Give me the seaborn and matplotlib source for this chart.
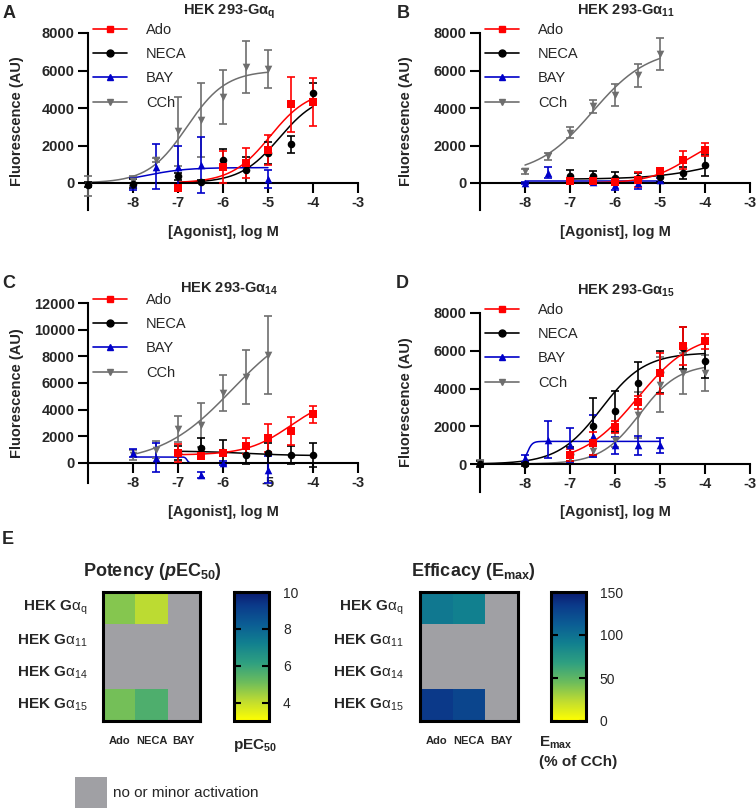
import numpy as np
import matplotlib
matplotlib.use('Agg')
import matplotlib.pyplot as plt
import seaborn as sns
import pandas as pd
from matplotlib.colors import LinearSegmentedColormap
from matplotlib.lines import Line2D
from matplotlib.patches import Rectangle

nan = np.nan

# ---------------- data ----------------
LOG_CONC = [-9, -8, -7.5, -7, -6.5, -6, -5.5, -5, -4.5, -4]
AGONISTS = ['Ado', 'NECA', 'BAY', 'CCh']
X_TICKS = [-8, -7, -6, -5, -4, -3]
X_TICK_LABELS = ['-8', '-7', '-6', '-5', '-4', '-3']

# Panel A  (HEK 293-Gaq)
A_ADO_MEAN = [nan, nan, nan, -250, nan, 850, 1060, 1770, 4190, 4340]
A_ADO_SEM = [nan, nan, nan, 60, nan, 870, 800, 800, 1470, 1280]
A_NECA_MEAN = [-80, -30, nan, 350, 80, 1240, 700, 1600, 2070, 4810]
A_NECA_SEM = [150, 250, nan, 180, 60, 560, 700, 600, 450, 500]
A_BAY_MEAN = [nan, -50, 880, 830, 970, nan, nan, 200, nan, nan]
A_BAY_SEM = [nan, 300, 1200, 1170, 1500, nan, nan, 480, nan, nan]
A_CCH_MEAN = [-150, 100, 1230, 2750, 3360, 4600, 6200, 6070, nan, nan]
A_CCH_SEM = [530, 250, 130, 1850, 1950, 1450, 1400, 1000, nan, nan]
# fit: bottom, top, logEC50, hill, first log conc, last log conc
A_ADO_FIT = [0, 5000, -4.95, 1.0, -7, -4]
A_NECA_FIT = [0, 4800, -4.75, 1.0, -7, -4]
A_BAY_FIT = [0, 820, -7.69, 1.0, -8, -5]
A_CCH_FIT = [0, 6000, -6.8, 1.0, -9, -5]

# Panel B  (HEK 293-Ga11)
B_ADO_MEAN = [nan, nan, nan, 90, 90, 80, 180, 650, 1240, 1770]
B_ADO_SEM = [nan, nan, nan, 60, 60, 60, 400, 150, 480, 350]
B_NECA_MEAN = [nan, nan, nan, 350, 350, 270, 270, 320, 530, 960]
B_NECA_SEM = [nan, nan, nan, 350, 300, 300, 250, 250, 300, 560]
B_BAY_MEAN = [nan, 0, 560, nan, 60, -100, -20, 160, nan, nan]
B_BAY_SEM = [nan, 60, 300, nan, 100, 250, 300, 100, nan, nan]
B_CCH_MEAN = [nan, 620, 1420, 2690, 4100, 4690, 5750, 6900, nan, nan]
B_CCH_SEM = [nan, 120, 180, 300, 350, 600, 620, 850, nan, nan]
B_ADO_FIT = [0, 2500, -4.4, 1.0, -7, -4]
B_NECA_FIT = [200, 2000, -3.5, 0.6, -7, -4]
B_BAY_FIT = [130, 130, -6.0, 1.0, -8, -5]
B_CCH_FIT = [400, 7200, -6.5, 0.7, -8, -5]

# Panel C  (HEK 293-Ga14)
C_ADO_MEAN = [nan, nan, nan, 750, 500, 750, 1250, 1850, 2400, 3650]
C_ADO_SEM = [nan, nan, nan, 700, 200, 250, 600, 1050, 1050, 650]
C_NECA_MEAN = [nan, nan, nan, 750, 1100, 850, 600, 750, 600, 600]
C_NECA_SEM = [nan, nan, nan, 500, 800, 850, 700, 750, 650, 900]
C_BAY_MEAN = [nan, 750, 400, nan, -900, 0, nan, -500, nan, nan]
C_BAY_SEM = [nan, 300, 1100, nan, 200, 150, nan, 1000, nan, nan]
C_CCH_MEAN = [nan, 600, 1000, 2550, 2850, 5250, 6450, 8100, nan, nan]
C_CCH_SEM = [nan, 400, 650, 1000, 1650, 1350, 2000, 2900, nan, nan]
C_ADO_FIT = [600, 5000, -4.5, 0.9, -7, -4]
C_NECA_FIT = [900, 550, -5.5, 0.8, -7, -4]
C_BAY_FIT = [450, 0, -6.8, 20.0, -8, -5]
C_CCH_FIT = [0, 11000, -5.8, 0.55, -8, -5]

# Panel D  (HEK 293-Ga15)
D_ADO_MEAN = [nan, nan, nan, 480, 1100, 1960, 3280, 4800, 6250, 6500]
D_ADO_SEM = [nan, nan, nan, 300, 600, 300, 350, 1100, 1000, 400]
D_NECA_MEAN = [0, 0, nan, 530, 2000, 2800, 4280, 4870, 6150, 5450]
D_NECA_SEM = [150, 80, nan, 350, 1500, 1080, 1120, 1100, 1100, 900]
D_BAY_MEAN = [nan, 300, 1300, 1000, 1500, 1000, 1000, 1000, nan, nan]
D_BAY_SEM = [nan, 200, 1000, 900, 1100, 450, 500, 400, nan, nan]
D_CCH_MEAN = [50, nan, nan, 300, 700, 1300, 2600, 4200, 4800, 4820]
D_CCH_SEM = [150, nan, nan, 200, 300, 400, 1200, 1450, 1100, 950]
D_ADO_FIT = [0, 7000, -5.5, 0.7, -7, -4]
D_NECA_FIT = [0, 5900, -6.3, 0.9, -9, -4]
D_BAY_FIT = [0, 1200, -7.95, 8.0, -8, -5]
D_CCH_FIT = [0, 5300, -5.45, 1.0, -9, -4]

# Panel E heatmaps
HM_ROWS = ['HEK G$\\mathrm{α}_{\\mathrm{q}}$', 'HEK G$\\mathrm{α}_{\\mathrm{11}}$',
           'HEK G$\\mathrm{α}_{\\mathrm{14}}$', 'HEK G$\\mathrm{α}_{\\mathrm{15}}$']
HM_COLS = ['Ado', 'NECA', 'BAY']
PEC50_GQ = [4.8, 4.1, nan]
PEC50_G11 = [nan, nan, nan]
PEC50_G14 = [nan, nan, nan]
PEC50_G15 = [5.0, 5.6, nan]
EMAX_GQ = [95, 90, nan]
EMAX_G11 = [nan, nan, nan]
EMAX_G14 = [nan, nan, nan]
EMAX_G15 = [135, 128, nan]
PEC50_TICKS = [4, 6, 8, 10]
EMAX_TICKS = [0, 50, 100, 150]

# ---------------- style ----------------
sns.set_theme(style='ticks')
plt.rcParams['font.family'] = ['Liberation Sans', 'DejaVu Sans']
plt.rcParams['mathtext.fontset'] = 'custom'
plt.rcParams['mathtext.rm'] = 'Liberation Sans'
plt.rcParams['mathtext.bf'] = 'Liberation Sans:bold'
plt.rcParams['mathtext.it'] = 'Liberation Sans:italic:bold'
plt.rcParams['axes.linewidth'] = 1.5

COLORS = {'Ado': '#ff0000', 'NECA': '#000000', 'BAY': '#0000c8', 'CCh': '#6e6e6e'}
MARKERS = {'Ado': 's', 'NECA': 'o', 'BAY': '^', 'CCh': 'v'}
GREY = '#a0a0a4'
CMAP = LinearSegmentedColormap.from_list('ygb', [
    (0.0, '#ffff00'), (0.15, '#c0dc30'), (0.3, '#6cbc5c'), (0.45, '#2fa080'),
    (0.6, '#11808f'), (0.75, '#0b5d94'), (0.9, '#0b3a8a'), (1.0, '#0a1a70')])

W, H = 756, 811
fig = plt.figure(figsize=(W / 100, H / 100), dpi=100)


def fx(x):
    return x / W


def fy(y):
    return 1 - y / H


def add_ax(l, t, w, h):
    return fig.add_axes([l / W, 1 - (t + h) / H, w / W, h / H])


def draw_panel(ax, means, sems, fits, ylim, yticks):
    x = np.array(LOG_CONC, dtype=float)
    for ag in ['CCh', 'BAY', 'NECA', 'Ado']:
        c = COLORS[ag]
        b, t, e, h, x0, x1 = fits[ag]
        xs = np.linspace(x0, x1, 300)
        ys = b + (t - b) / (1 + 10 ** ((e - xs) * h))
        sns.lineplot(x=xs, y=ys, ax=ax, color=c, lw=1.1, estimator=None,
                     sort=False, legend=False, zorder=2)
        m = np.array(means[ag], dtype=float)
        s = np.array(sems[ag], dtype=float)
        ok = ~np.isnan(m)
        ax.errorbar(x[ok], m[ok], yerr=s[ok], fmt='none', ecolor=c,
                    elinewidth=1.2, capsize=3, capthick=1.2, clip_on=False, zorder=3)
        sns.scatterplot(x=x[ok], y=m[ok], ax=ax, color=c, marker=MARKERS[ag], s=30,
                        edgecolor=c, linewidth=0, zorder=4, clip_on=False, legend=False)
    ax.set_xlim(-9, -3)
    ax.set_ylim(*ylim)
    ax.spines['bottom'].set_position(('data', 0))
    ax.spines['top'].set_visible(False)
    ax.spines['right'].set_visible(False)
    for sp in ('left', 'bottom'):
        ax.spines[sp].set_linewidth(1.5)
        ax.spines[sp].set_color('black')
    ax.set_xticks(X_TICKS)
    ax.set_xticklabels(X_TICK_LABELS, fontsize=10.5, fontweight='bold')
    ax.set_yticks(yticks)
    ax.set_yticklabels([str(v) for v in yticks], fontsize=10.5, fontweight='bold')
    ax.tick_params(direction='out', length=7, width=1.5, pad=2.5, color='black')
    ax.set_xlabel('')
    ax.set_ylabel('')
    ax.set_facecolor('none')
    handles = [Line2D([0], [0], color=COLORS[a], marker=MARKERS[a], lw=1.2, ms=5)
               for a in AGONISTS]
    hpx = ax.get_position().height * H
    ax.legend(handles, AGONISTS, loc='upper left', bbox_to_anchor=(0.02, 1 + 10 / hpx),
              frameon=False, fontsize=10.5, handlelength=2.3, handletextpad=1.3,
              labelspacing=0.7, borderpad=0, borderaxespad=0)


panels = [
    ('A', 'HEK 293-Gα$_{\\mathbf{q}}$', (88, 33, 270, 177), (-1440, 8000), [0, 2000, 4000, 6000, 8000],
     {'Ado': A_ADO_MEAN, 'NECA': A_NECA_MEAN, 'BAY': A_BAY_MEAN, 'CCh': A_CCH_MEAN},
     {'Ado': A_ADO_SEM, 'NECA': A_NECA_SEM, 'BAY': A_BAY_SEM, 'CCh': A_CCH_SEM},
     {'Ado': A_ADO_FIT, 'NECA': A_NECA_FIT, 'BAY': A_BAY_FIT, 'CCh': A_CCH_FIT},
     (9, 14), (229, 15), (17, 121), (223, 232)),
    ('B', 'HEK 293-Gα$_{\\mathbf{11}}$', (480, 33, 270, 177), (-1440, 8000), [0, 2000, 4000, 6000, 8000],
     {'Ado': B_ADO_MEAN, 'NECA': B_NECA_MEAN, 'BAY': B_BAY_MEAN, 'CCh': B_CCH_MEAN},
     {'Ado': B_ADO_SEM, 'NECA': B_NECA_SEM, 'BAY': B_BAY_SEM, 'CCh': B_CCH_SEM},
     {'Ado': B_ADO_FIT, 'NECA': B_NECA_FIT, 'BAY': B_BAY_FIT, 'CCh': B_CCH_FIT},
     (403, 14), (626, 15), (406, 121), (615, 232)),
    ('C', 'HEK 293-Gα$_{\\mathbf{14}}$', (88, 303, 270, 180), (-1500, 12000),
     [0, 2000, 4000, 6000, 8000, 10000, 12000],
     {'Ado': C_ADO_MEAN, 'NECA': C_NECA_MEAN, 'BAY': C_BAY_MEAN, 'CCh': C_CCH_MEAN},
     {'Ado': C_ADO_SEM, 'NECA': C_NECA_SEM, 'BAY': C_BAY_SEM, 'CCh': C_CCH_SEM},
     {'Ado': C_ADO_FIT, 'NECA': C_NECA_FIT, 'BAY': C_BAY_FIT, 'CCh': C_CCH_FIT},
     (9, 284), (229, 293), (17, 393), (223, 512)),
    ('D', 'HEK 293-Gα$_{\\mathbf{15}}$', (480, 313, 270, 179), (-1480, 8000), [0, 2000, 4000, 6000, 8000],
     {'Ado': D_ADO_MEAN, 'NECA': D_NECA_MEAN, 'BAY': D_BAY_MEAN, 'CCh': D_CCH_MEAN},
     {'Ado': D_ADO_SEM, 'NECA': D_NECA_SEM, 'BAY': D_BAY_SEM, 'CCh': D_CCH_SEM},
     {'Ado': D_ADO_FIT, 'NECA': D_NECA_FIT, 'BAY': D_BAY_FIT, 'CCh': D_CCH_FIT},
     (402, 284), (626, 295), (406, 402), (615, 512)),
]

for (letter, title, rect, ylim, yticks, means, sems, fits,
     lpos, tpos, ylpos, xlpos) in panels:
    ax = add_ax(*rect)
    draw_panel(ax, means, sems, fits, ylim, yticks)
    fig.text(fx(lpos[0]), fy(lpos[1]), letter, fontsize=13, fontweight='bold',
             ha='center', va='center')
    fig.text(fx(tpos[0]), fy(tpos[1]), title, fontsize=10.5, fontweight='bold',
             ha='center', va='baseline')
    fig.text(fx(ylpos[0]), fy(ylpos[1]), 'Fluorescence (AU)', fontsize=10.5,
             fontweight='bold', rotation=90, ha='center', va='center')
    fig.text(fx(xlpos[0]), fy(xlpos[1]), '[Agonist], log M', fontsize=10.5,
             fontweight='bold', ha='center', va='center')

# ---------------- panel E ----------------
fig.text(fx(8), fy(540), 'E', fontsize=13, fontweight='bold', ha='center', va='center')


def draw_heatmap(hrect, crect, rows_vals, vmin, vmax, ticks, row_pad):
    hax = add_ax(*hrect)
    cax = add_ax(*crect)
    df = pd.DataFrame(rows_vals, index=HM_ROWS, columns=HM_COLS)
    sns.heatmap(df, ax=hax, cmap=CMAP, vmin=vmin, vmax=vmax, cbar_ax=cax,
                xticklabels=True, yticklabels=True, linewidths=0)
    hax.set_facecolor(GREY)
    for sp in hax.spines.values():
        sp.set_visible(True)
        sp.set_linewidth(2.2)
        sp.set_color('black')
    hax.tick_params(axis='both', length=0)
    hax.tick_params(axis='y', pad=row_pad)
    hax.tick_params(axis='x', pad=11)
    hax.set_yticklabels(HM_ROWS, rotation=0, fontsize=11, fontweight='bold', ha='right')
    hax.set_xticklabels(HM_COLS, rotation=0, fontsize=8, fontweight='bold')
    hax.set_xlabel('')
    hax.set_ylabel('')
    cbar = hax.collections[0].colorbar
    cbar.set_ticks(ticks)
    cbar.ax.set_yticklabels([str(t) for t in ticks])
    cbar.outline.set_linewidth(2.2)
    cbar.outline.set_edgecolor('black')
    cax.set_axisbelow(False)
    cax.minorticks_off()
    cax.tick_params(axis='y', which='major', direction='in', left=True, right=True,
                    length=5, width=1.5, color='black', labelsize=10,
                    labelleft=False, labelright=True, pad=10)
    return hax, cax


draw_heatmap((103, 592, 97, 129), (234, 592, 35, 129),
             [PEC50_GQ, PEC50_G11, PEC50_G14, PEC50_G15], 3, 10, PEC50_TICKS, 11)
draw_heatmap((420, 592, 98, 129), (551, 592, 35, 129),
             [EMAX_GQ, EMAX_G11, EMAX_G14, EMAX_G15], 0, 150, EMAX_TICKS, 12)

fig.text(fx(152), fy(572), 'Potency ($\\mathit{p}$EC$_{\\mathbf{50}}$)', fontsize=13,
         fontweight='bold', ha='center', va='center')
fig.text(fx(473), fy(572), 'Efficacy (E$_{\\mathbf{max}}$)', fontsize=13,
         fontweight='bold', ha='center', va='center')
fig.text(fx(233), fy(745), 'pEC$_{\\mathbf{50}}$', fontsize=11, fontweight='bold',
         ha='left', va='center')
fig.text(fx(539), fy(743), 'E$_{\\mathbf{max}}$', fontsize=11, fontweight='bold',
         ha='left', va='center')
fig.text(fx(539), fy(762), '(% of CCh)', fontsize=11, fontweight='bold',
         ha='left', va='center')

fig.add_artist(Rectangle((fx(75), fy(808)), 32 / W, 31 / H, transform=fig.transFigure,
                         facecolor=GREY, edgecolor='none'))
fig.text(fx(113), fy(793), 'no or minor activation', fontsize=11, ha='left', va='center')

fig.savefig('out.png', dpi=100)
